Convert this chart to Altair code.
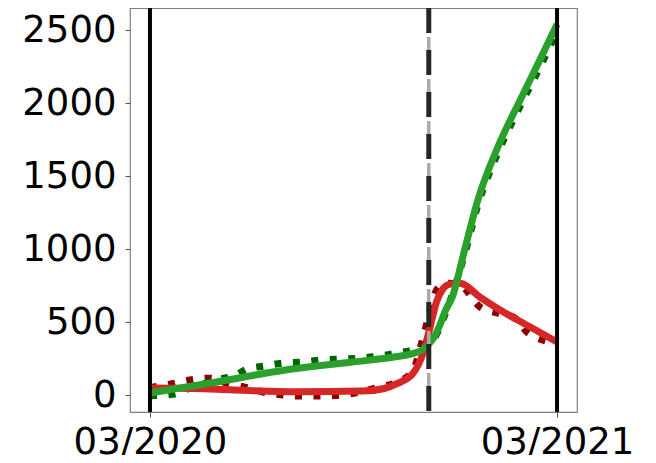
import altair as alt
import pandas as pd

# x values are days since 2020-03-01
model_green_day = [0, 30, 60, 120, 180, 220, 238, 246, 250, 255, 260, 265, 271, 282, 294, 312, 332, 348, 365]
model_green_val = [14, 52, 90, 170, 225, 262, 290, 318, 350, 400, 480, 580, 670, 990, 1336, 1700, 2021, 2270, 2540]

model_red_day = [0, 40, 72, 132, 191, 210, 222, 236, 245, 251, 257, 263, 269, 278, 296, 311, 341, 365]
model_red_val = [48, 45, 36, 22, 27, 45, 80, 150, 290, 460, 640, 730, 760, 765, 670, 596, 466, 363]

obs_green_day = [0, 20, 40, 60, 77, 87, 103, 119, 137, 154, 172, 188, 206, 222, 235, 248, 255, 265, 282, 294, 312, 332, 348, 365]
obs_green_val = [-5, 5, 60, 105, 137, 178, 199, 219, 226, 240, 247, 253, 267, 288, 308, 340, 390, 560, 960, 1300, 1660, 1980, 2220, 2490]

obs_red_day = [0, 18, 36, 54, 69, 85, 101, 119, 137, 154, 172, 188, 206, 222, 236, 245, 257, 265, 278, 296, 311, 326, 338, 352, 365]
obs_red_val = [50, 75, 103, 116, 82, 55, 21, 0, -7, -7, 0, 21, 55, 89, 171, 397, 719, 767, 753, 603, 562, 534, 432, 377, 356]

solid_vlines = [0, 365]
dashed_vline = [250]
x_ticks = [0, 365]
x_tick_labels = ["03/2020", "03/2021"]
y_ticks = [0, 500, 1000, 1500, 2000, 2500]

W, H = 447, 404
xs = alt.Scale(domain=[-17.9, 382.9], nice=False, zero=False)
ys = alt.Scale(domain=[-116, 2651], nice=False, zero=False)

font = "DejaVu Sans"

def df(days, vals):
    return pd.DataFrame({"day": days, "val": vals})

x_axis = alt.Axis(values=x_ticks, labelExpr="datum.value == 0 ? '%s' : '%s'" % tuple(x_tick_labels),
                  title=None, grid=False, domain=False, tickColor="#555555", tickSize=5,
                  labelFontSize=37, labelFont=font, labelColor="black", labelPadding=7,
                  labelFlush=False, labelOverlap=False)
y_axis = alt.Axis(values=y_ticks, format="d", title=None, grid=False, domain=False,
                  tickColor="#555555", tickSize=5,
                  labelFontSize=37, labelFont=font, labelColor="black", labelPadding=9)

X = alt.X("day:Q", scale=xs, axis=x_axis)
Y = alt.Y("val:Q", scale=ys, axis=y_axis)

def line(d, color, width, dash=None):
    kw = dict(color=color, strokeWidth=width, strokeCap="butt", interpolate="monotone")
    if dash:
        kw["strokeDash"] = dash
    return alt.Chart(d).mark_line(**kw).encode(x=X, y=Y)

obs_red = line(df(obs_red_day, obs_red_val), "#8b0000", 7, [7, 11.5])
obs_green = line(df(obs_green_day, obs_green_val), "#006400", 7, [7, 11.5])
mod_red = line(df(model_red_day, model_red_val), "#d62728", 7)
mod_green = line(df(model_green_day, model_green_val), "#2ca02c", 7)

vl = alt.Chart(pd.DataFrame({"day": solid_vlines})).mark_rule(color="black", strokeWidth=4).encode(
    x=X, y=alt.value(0), y2=alt.value(H))
dv_gray = alt.Chart(pd.DataFrame({"day": dashed_vline})).mark_rule(
    color="#aaaaaa", strokeWidth=3.5, strokeDash=[13, 29], strokeDashOffset=13).encode(
    x=X, y=alt.value(0), y2=alt.value(H))
dv_black = alt.Chart(pd.DataFrame({"day": dashed_vline})).mark_rule(
    color="#262626", strokeWidth=5, strokeDash=[25, 17]).encode(
    x=X, y=alt.value(0), y2=alt.value(H))

chart = alt.layer(obs_red, obs_green, mod_red, mod_green, vl, dv_gray, dv_black).properties(
    width=W, height=H,
    autosize=alt.AutoSizeParams(type="none"),
    padding={"left": 122, "top": 0, "right": 70, "bottom": 43},
).configure_view(stroke="#808080", strokeWidth=1.2)

chart.save("out.html", embed_options={"renderer": "svg", "actions": False})
